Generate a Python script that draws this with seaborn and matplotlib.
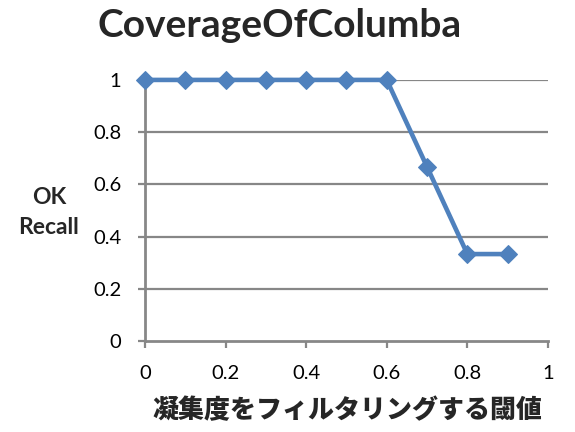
import matplotlib
matplotlib.use("Agg")
import matplotlib.pyplot as plt
import seaborn as sns
import pandas as pd

thresholds = [0.0, 0.1, 0.2, 0.3, 0.4, 0.5, 0.6, 0.7, 0.8, 0.9]
recall = [1.0, 1.0, 1.0, 1.0, 1.0, 1.0, 1.0, 0.667, 0.333, 0.333]
tick_vals = [0, 0.2, 0.4, 0.6, 0.8, 1]
tick_labels = ["0", "0.2", "0.4", "0.6", "0.8", "1"]

sns.set_style("white")
plt.rcParams["font.family"] = ["Lato", "Noto Sans CJK JP", "DejaVu Sans"]

df = pd.DataFrame({"threshold": thresholds, "recall": recall})

fig = plt.figure(figsize=(5.75, 4.32), dpi=100)
ax = fig.add_axes([0.252, 0.2106, 0.701, 0.6044])

grid_col = "#878787"
for v in tick_vals[1:]:
    ax.axhline(v, color=grid_col, lw=1.6, zorder=1)

sns.lineplot(data=df, x="threshold", y="recall", color="#4F81BD", lw=3.3,
             marker="D", markersize=9.5, markeredgecolor="#4F81BD", ax=ax, zorder=3,
             clip_on=False)

ax.set_xlim(0, 1)
ax.set_ylim(0, 1)
ax.set_xticks(tick_vals)
ax.set_xticklabels(tick_labels)
ax.set_yticks(tick_vals)
ax.set_yticklabels(tick_labels)
ax.tick_params(axis="both", which="both", length=5, width=1.6, color=grid_col,
               labelsize=14.5, labelcolor="black", direction="out",
               bottom=True, left=True)
ax.tick_params(axis="x", pad=12)
ax.tick_params(axis="y", pad=12)
for s in ["top", "right"]:
    ax.spines[s].set_visible(False)
for s in ["left", "bottom"]:
    ax.spines[s].set_color(grid_col)
    ax.spines[s].set_linewidth(2)
ax.set_xlabel("")
ax.set_ylabel("")

fig.text(0.487, 0.94, "CoverageOfColumba", ha="center", va="center",
         fontsize=28, fontweight="bold")
fig.text(0.085, 0.508, "OK\nRecall", ha="center", va="center",
         fontsize=16.5, fontweight="bold", linespacing=1.55)
fig.text(0.605, 0.05, "凝集度をフィルタリングする閾値", ha="center", va="center",
         fontsize=18.7, fontweight="heavy",
         family=["Noto Sans CJK JP", "DejaVu Sans"])

fig.savefig("out.png", dpi=100)
